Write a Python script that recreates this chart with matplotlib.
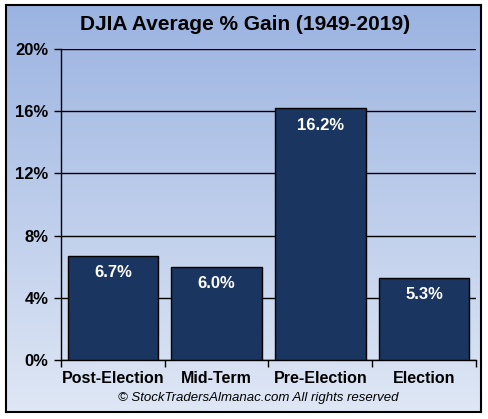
import numpy as np
import matplotlib.pyplot as plt
from matplotlib.colors import LinearSegmentedColormap

categories = ["Post-Election", "Mid-Term", "Pre-Election", "Election"]
gains = [6.7, 6.0, 16.2, 5.3]
yticks = [0, 4, 8, 12, 16, 20]

plt.rcParams['font.family'] = ['Liberation Sans', 'DejaVu Sans']

fig = plt.figure(figsize=(4.89, 4.19), dpi=100)
fig.patch.set_facecolor("white")

# gradient background inside the frame
bg = fig.add_axes([6/489, 1 - 412/419, 475/489, 407/419])
cmap = LinearSegmentedColormap.from_list("bg", ["#9bb3e1", "#dfe7f5"])
grad = np.linspace(0, 1, 256).reshape(-1, 1)
bg.imshow(grad, aspect="auto", cmap=cmap, extent=[0, 1, 0, 1], origin="upper")
bg.set_xticks([])
bg.set_yticks([])
for s in bg.spines.values():
    s.set_linewidth(1.5)
    s.set_color("black")

ax = fig.add_axes([61/489, 1 - 360/419, 415/489, 311/419])
ax.patch.set_alpha(0)
x = np.arange(len(categories))
ax.bar(x, gains, width=0.87, color="#1a355f", edgecolor="black", linewidth=1, zorder=3)
for xi, v in zip(x, gains):
    ax.text(xi, v - 1.1, f"{v:.1f}%", ha="center", va="center", color="white",
            fontsize=12, fontweight="bold", zorder=4)

ax.set_xlim(-0.5, len(categories) - 0.5)
ax.set_ylim(0, 20)
ax.set_yticks(yticks)
ax.set_yticklabels([f"{t}%" for t in yticks], fontsize=12, fontweight="bold")
ax.yaxis.grid(True, color="black", linewidth=1, zorder=1)
ax.set_axisbelow(True)

ax.set_xticks(x)
ax.set_xticklabels(categories, fontsize=11.5, fontweight="bold")
ax.tick_params(axis="x", length=0, pad=8)
ax.set_xticks(np.arange(-0.5, len(categories)), minor=True)
ax.tick_params(axis="x", which="minor", length=5, width=1, direction="out")
ax.tick_params(axis="y", length=5, width=1, direction="out", pad=4)

for side in ["top", "right"]:
    ax.spines[side].set_visible(False)
ax.spines["left"].set_linewidth(1)
ax.spines["bottom"].set_linewidth(1)

fig.text(245/489, 1 - 25/419, "DJIA Average % Gain (1949-2019)", ha="center", va="center",
         fontsize=15, fontweight="bold")
fig.text(258/489, 1 - 398/419, "© StockTradersAlmanac.com All rights reserved",
         ha="center", va="center", fontsize=9.5, fontstyle="italic")

fig.savefig("out.png", dpi=100)
